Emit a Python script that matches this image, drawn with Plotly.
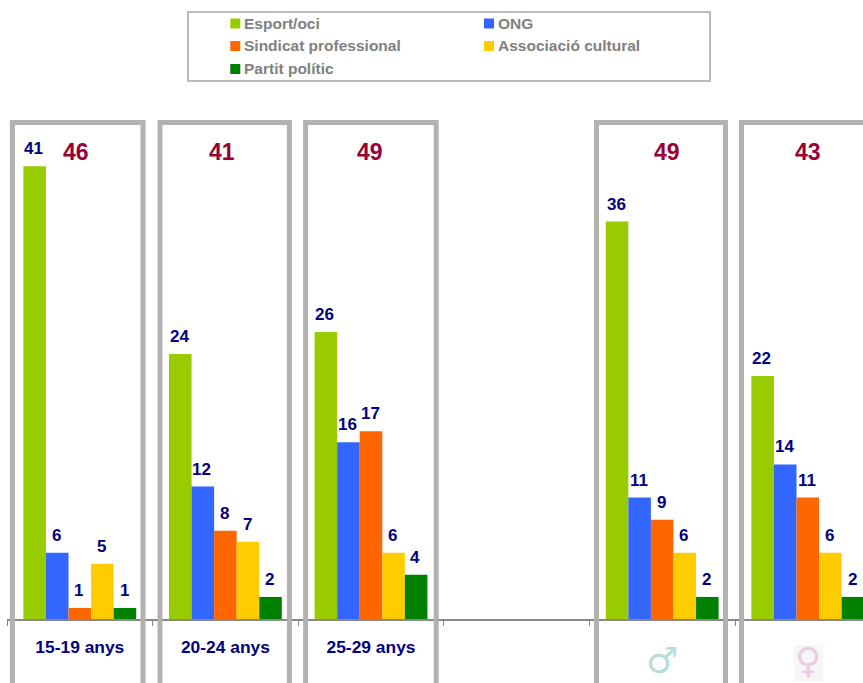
import plotly.graph_objects as go

categories = ["15-19 anys", "20-24 anys", "25-29 anys", "\u00a0", "\u00a0\u00a0", "\u00a0\u00a0\u00a0"]
gender_symbols = [None, None, None, None, "♂", "♀"]
gender_colors = [None, None, None, None, "#B8DCD6", "#E9CDE0"]
esport = [41, 24, 26, None, 36, 22]
ong = [6, 12, 16, None, 11, 14]
sindicat = [1, 8, 17, None, 9, 11]
associacio = [5, 7, 6, None, 6, 6]
partit = [1, 2, 4, None, 2, 2]
totals = [46, 41, 49, None, 49, 43]
total_shift = [-4, -3, -1, 0, 5, 0]

series = [
    ("Esport/oci", esport, "#99CC00"),
    ("ONG", ong, "#3366FF"),
    ("Sindicat professional", sindicat, "#FF6600"),
    ("Associació cultural", associacio, "#FFCC00"),
    ("Partit polític", partit, "#008000"),
]

W, H = 863, 683
L, R, T, B = 7, 0, 100, 64
PX_PER_UNIT = 11.04
COL_PX = 145.6
BAR_PX = 22.6


def px(x):
    return (x - L) / (W - L - R)


def py(y):
    return (H - B - y) / (H - T - B)


fig = go.Figure()
for name, vals, col in series:
    fig.add_bar(x=categories, y=vals, name=name, marker=dict(color=col, line_width=0))

for i, (name, vals, col) in enumerate(series):
    for cat, v in zip(categories, vals):
        if v is None:
            continue
        fig.add_annotation(x=cat, y=v, text=f"<b>{v}</b>", showarrow=False,
                           xshift=(i - 2) * BAR_PX - 1, yshift=17.5, yanchor="middle",
                           font=dict(family="Liberation Sans", size=17, color="#000080"))

for cat, t, s in zip(categories, totals, total_shift):
    if t is None:
        continue
    fig.add_annotation(x=cat, y=py(152), yref="paper", text=f"<b>{t}</b>", showarrow=False,
                       xshift=s, yanchor="middle",
                       font=dict(family="Liberation Sans", size=23, color="#990033"))

for cat, sym, col in zip(categories, gender_symbols, gender_colors):
    if sym is None:
        continue
    fig.add_annotation(x=cat, y=py(660), yref="paper", text=sym, showarrow=False,
                       xshift=0, yanchor="middle",
                       font=dict(family="DejaVu Sans", size=36, color=col))

shapes = []
for x0, x1 in [(12.4, 143), (160, 289.4), (305.6, 436.2), (596.5, 725.5), (741.5, 900)]:
    shapes.append(dict(type="rect", xref="paper", yref="paper", x0=px(x0), x1=px(x1),
                       y0=py(760), y1=py(122.4), line=dict(color="#B2B2B2", width=5), layer="above"))
shapes.append(dict(type="rect", xref="paper", yref="paper", x0=px(188), x1=px(710),
                   y0=py(81), y1=py(12), line=dict(color="#A6A6A6", width=1.5), layer="below"))
shapes.append(dict(type="rect", xref="paper", yref="paper", x0=px(794), x1=px(823),
                   y0=py(681), y1=py(645), line_width=0, fillcolor="#F6F6F6", layer="below"))

# legend: two columns, filled row by row
legend_cols = [230.3, 484]
legend_rows = [23.5, 46, 69]
for k, (name, vals, col) in enumerate(series):
    lx = legend_cols[k % 2]
    ly = legend_rows[k // 2]
    shapes.append(dict(type="rect", xref="paper", yref="paper", x0=px(lx), x1=px(lx + 10),
                       y0=py(ly + 5), y1=py(ly - 5), line_width=0, fillcolor=col))
    fig.add_annotation(xref="paper", yref="paper", x=px(lx + 11.5), y=py(ly), text=f"<b>{name}</b>",
                       showarrow=False, xanchor="left", yanchor="middle", xshift=0,
                       font=dict(family="Liberation Sans", size=15.5, color="#808080"))

fig.update_layout(
    width=W, height=H, margin=dict(l=L, r=R, t=T, b=B, pad=0),
    paper_bgcolor="white", plot_bgcolor="white",
    barmode="group", bargap=0.225, bargroupgap=0,
    shapes=shapes,
    showlegend=False,
    font=dict(family="Liberation Sans"),
)
fig.update_xaxes(type="category", categoryorder="array", categoryarray=categories,
                 range=[-0.5, -0.5 + (W - L) / COL_PX], tickson="boundaries",
                 ticks="outside", ticklen=5, tickwidth=1, tickcolor="#888888",
                 showline=True, linecolor="#888888", linewidth=1.5, showgrid=False,
                 ticklabelstandoff=11, tickangle=0,
                 tickfont=dict(family="Liberation Sans", size=17.4, color="#000080", weight="bold"))
fig.update_yaxes(visible=False, range=[0, (H - T - B) / PX_PER_UNIT], fixedrange=True)

fig.write_html("out.html", post_script="document.body.style.margin='0';document.body.style.overflow='hidden';",
               config=dict(displayModeBar=False))
